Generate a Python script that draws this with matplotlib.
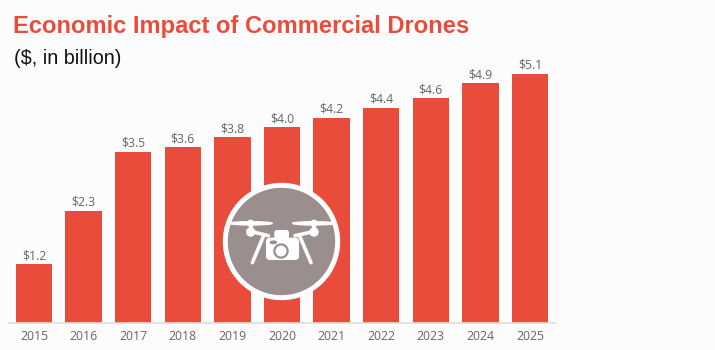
import matplotlib
matplotlib.use("Agg")
import matplotlib.pyplot as plt
from matplotlib.patches import Circle, Ellipse, FancyBboxPatch

years = [2015, 2016, 2017, 2018, 2019, 2020, 2021, 2022, 2023, 2024, 2025]
values = [1.2, 2.3, 3.5, 3.6, 3.8, 4.0, 4.2, 4.4, 4.6, 4.9, 5.1]
labels = ["$1.2", "$2.3", "$3.5", "$3.6", "$3.8", "$4.0", "$4.2", "$4.4", "$4.6", "$4.9", "$5.1"]

W, H = 715, 350
BG = "#fcfcfc"
RED = "#ea4c3c"
GREY = "#9a8f8e"
TXT = "#666666"

fig = plt.figure(figsize=(W / 100, H / 100), dpi=100, facecolor=BG)

# axes placed in pixels, so bars land where they do in the picture
left, right, top, bottom = 9.2, 554.8, 60, 323
ax = fig.add_axes([left / W, 1 - bottom / H, (right - left) / W, (bottom - top) / H])
ax.set_facecolor("none")
ax.bar(range(len(years)), values, width=0.73, color=RED, zorder=2)
for i, v in enumerate(values):
    ax.text(i, v + 0.04, labels[i].replace("$", r"\$"), ha="center", va="bottom",
            fontsize=8.8, color=TXT, family="Open Sans")
ax.set_xlim(-0.5, 10.5)
ax.set_ylim(0, (bottom - top) / 48.9)
ax.set_xticks(range(len(years)))
ax.set_xticklabels(years, fontsize=8.8, color=TXT, family="Open Sans")
ax.set_yticks([])
ax.tick_params(axis="x", length=0, pad=5)
for s in ["top", "left", "right"]:
    ax.spines[s].set_visible(False)
ax.spines["bottom"].set_color("#dddddd")
ax.spines["bottom"].set_linewidth(1.2)

fig.text(13 / W, 1 - 33.5 / H, "Economic Impact of Commercial Drones", fontsize=17.1,
         fontweight="bold", color=RED, family="Liberation Sans")
fig.text(14 / W, 1 - 64 / H, r"(\$, in billion)", fontsize=14.2, color="#111111",
         family="Liberation Sans")

# drone badge on top, pixel coordinates
ic = fig.add_axes([0, 0, 1, 1], facecolor="none")
ic.set_xlim(0, W)
ic.set_ylim(H, 0)
ic.axis("off")


def z(x, y):
    return 210 + x / 3, 170 + y / 3


ic.add_patch(Circle((281.5, 241.5), 58, color="white", zorder=3))
ic.add_patch(Circle((281.5, 241.5), 53, color=GREY, zorder=4))

for cx in (122, 312):
    ic.add_patch(Ellipse(z(cx, 160), 43, 3.2, color="white", zorder=5))
    ic.add_patch(Circle(z(cx, 160), 3, color="white", zorder=5))
    ic.add_patch(Circle(z(cx, 186), 4, color="white", zorder=5))
    ic.plot(*zip(z(cx, 160), z(cx, 186)), color="white", lw=2.6, zorder=5)

for a, b in [((125, 185), (175, 197)), ((310, 185), (255, 197)),
             ((160, 200), (127, 278)), ((270, 200), (303, 278))]:
    ic.plot(*zip(z(*a), z(*b)), color="white", lw=2.6, solid_capstyle="round", zorder=5)

# camera
x0, y0 = z(170, 205)
x1, y1 = z(265, 268)
ic.add_patch(FancyBboxPatch((x0, y0), x1 - x0, y1 - y0, boxstyle="round,pad=0,rounding_size=3",
                            color="white", zorder=6))
x0, y0 = z(195, 182)
x1, y1 = z(235, 210)
ic.add_patch(FancyBboxPatch((x0, y0), x1 - x0, y1 - y0, boxstyle="round,pad=0,rounding_size=2",
                            color="white", zorder=6))
ic.add_patch(Circle(z(213, 243), 7, color=GREY, zorder=7))
ic.add_patch(Circle(z(213, 243), 4.8, color="white", zorder=8))
ic.add_patch(Ellipse(z(190, 217), 6, 2.4, color=GREY, zorder=7))

fig.savefig("out.png", dpi=100, facecolor=BG)
